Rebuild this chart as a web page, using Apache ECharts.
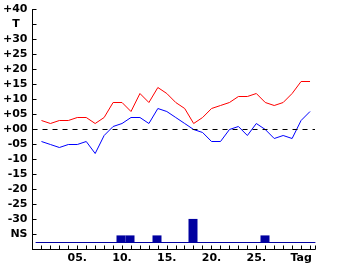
<!DOCTYPE html>
<html><head><meta charset="utf-8">
<script src="https://cdn.jsdelivr.net/npm/echarts@6/dist/echarts.min.js"></script>
<style>html,body{margin:0;padding:0;background:#fff}#c{width:340px;height:265px}</style>
</head><body><div id="c"></div><script>
const days = [1,2,3,4,5,6,7,8,9,10,11,12,13,14,15,16,17,18,19,20,21,22,23,24,25,26,27,28,29,30,31];
const tempHigh = [3,2,3,3,4,4,2,4,9,9,6,12,9,14,12,9,7,2,4,7,8,9,11,11,12,9,8,9,12,16,16];
const tempLow = [-4,-5,-6,-5,-5,-4,-8,-2,1,2,4,4,2,7,6,4,2,0,-1,-4,-4,0,1,-2,2,0,-3,-2,-3,3,6];
const precipDays = [10,11,14,18,26];
const precipValues = [2,2,2,7,2];
const yTickValues = [40,35,30,25,20,15,10,5,0,-5,-10,-15,-20,-25,-30,-35,-40];
const yTickLabels = ['+40','T  ','+30','+25','+20','+15','+10','+05','+00','-05','-10','-15','-20','-25','-30','NS',''];
const xTickDays = [5,10,15,20,25,30];
const xTickLabels = ['05.','10.','15.','20.','25.','Tag'];

const font = {fontFamily:'DejaVu Sans', fontWeight:'bold', fontSize:11, color:'#000'};
const chart = echarts.init(document.getElementById('c'), null, {renderer:'canvas'});
const xMax = 284/9;
chart.setOption({
  animation:false,
  backgroundColor:'#fff',
  grid:[
    {left:31, top:9.5, width:284, height:240},
    {left:36, right:25, bottom:23, height:30}
  ],
  xAxis:[
    {type:'value', gridIndex:0, min:0, max:xMax, interval:1,
     axisLine:{show:true, onZero:false, lineStyle:{color:'#000', width:1}},
     axisTick:{show:true, inside:true, length:4, lineStyle:{color:'#000'}},
     axisLabel:Object.assign({margin:3, showMinLabel:true, showMaxLabel:true,
       formatter:function(v){const i=xTickDays.indexOf(Math.round(v*1000)/1000); return i>=0?xTickLabels[i]:'';}}, font),
     splitLine:{show:false}},
    {type:'value', gridIndex:1, min:5/9, max:xMax,
     axisLine:{show:true, onZero:false, lineStyle:{color:'#0000a0', width:1}},
     axisTick:{show:false}, axisLabel:{show:false}, splitLine:{show:false}}
  ],
  yAxis:[
    {type:'value', gridIndex:0, min:-40, max:40, interval:5,
     axisLine:{show:true, onZero:false, lineStyle:{color:'#000', width:1}},
     axisTick:{show:true, inside:true, length:4, lineStyle:{color:'#000'}},
     axisLabel:Object.assign({margin:5,
       formatter:function(v){const i=yTickValues.indexOf(v); return i>=0?yTickLabels[i]:'';}}, font),
     splitLine:{show:false}},
    {type:'value', gridIndex:1, min:0, max:9.1, show:false}
  ],
  series:[
    {type:'line', xAxisIndex:0, yAxisIndex:0, data:days.map((d,i)=>[d,tempHigh[i]]),
     symbol:'none', lineStyle:{color:'#ff0000', width:1}, itemStyle:{color:'#ff0000'},
     markLine:{silent:true, symbol:['none','none'], label:{show:false},
       lineStyle:{color:'#000', type:[5,5], width:1}, data:[{yAxis:0}]}},
    {type:'line', xAxisIndex:0, yAxisIndex:0, data:days.map((d,i)=>[d,tempLow[i]]),
     symbol:'none', lineStyle:{color:'#0000ff', width:1}, itemStyle:{color:'#0000ff'}},
    {type:'bar', xAxisIndex:1, yAxisIndex:1, data:precipDays.map((d,i)=>[d,precipValues[i]]),
     barWidth:9, itemStyle:{color:'#0000a0'}}
  ]
});
</script></body></html>
